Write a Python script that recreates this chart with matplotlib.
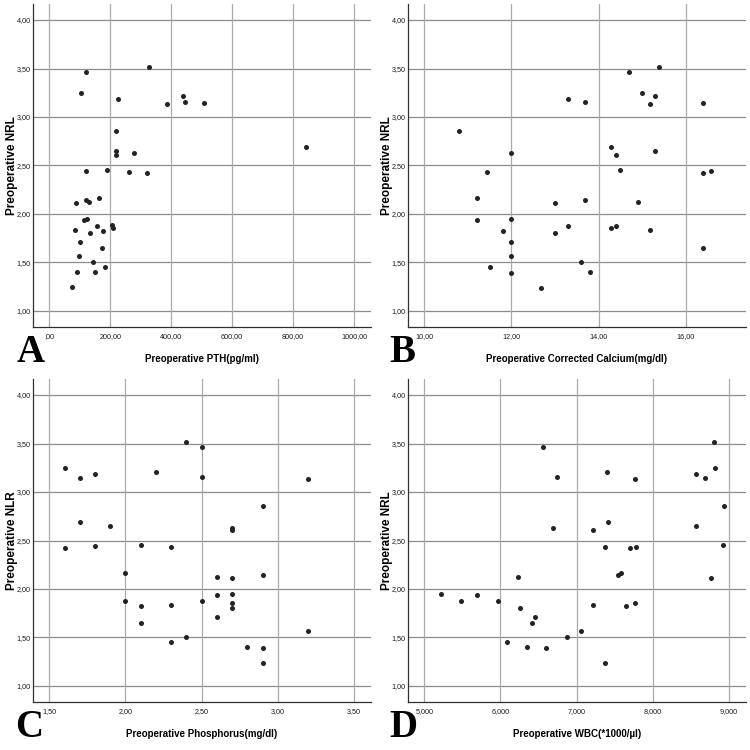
import matplotlib
matplotlib.use("Agg")
import matplotlib.pyplot as plt
from matplotlib import font_manager
from matplotlib.ticker import FixedLocator, FuncFormatter

# ---------------- data ----------------
nlr = [1.25, 1.40, 1.57, 1.71, 1.83, 2.11, 3.25, 3.46, 2.44, 1.94, 1.95, 2.14, 2.12,
       1.80, 1.50, 1.40, 1.88, 2.16, 1.65, 1.82, 1.45, 2.45, 1.89, 1.86, 2.86, 2.65,
       2.61, 3.19, 2.43, 2.63, 2.42, 3.52, 3.13, 3.22, 3.15, 3.14, 2.69]
pth = [74, 92, 96, 102, 83, 89, 103, 119, 120, 115, 125, 121, 129,
       134, 144, 149, 157, 164, 173, 177, 182, 189, 206, 209, 218, 218,
       220, 227, 263, 279, 322, 326, 387, 438, 446, 507, 843]

ca_x = [10.80, 11.20, 11.20, 11.44, 11.50, 11.80, 12.00, 12.00, 12.00, 12.00, 12.00,
        12.69, 13.00, 13.00, 13.30, 13.30, 13.60, 13.70, 13.70, 13.80, 14.29, 14.39,
        14.29, 14.39, 14.49, 14.70, 14.90, 14.99, 15.19, 15.19, 15.29, 15.29, 15.39,
        16.39, 16.39, 16.39, 16.59]
ca_y = [2.86, 2.16, 1.94, 2.43, 1.45, 1.82, 2.63, 1.95, 1.71, 1.57, 1.39,
        1.24, 2.11, 1.80, 3.19, 1.88, 1.50, 3.15, 2.14, 1.40, 2.69, 2.61,
        1.86, 1.88, 2.45, 3.46, 2.12, 3.25, 3.13, 1.83, 3.22, 2.65, 3.52,
        3.14, 2.42, 1.65, 2.44]

p_x = [1.60, 1.60, 1.70, 1.70, 1.80, 1.80, 1.90, 2.00, 2.00, 2.10, 2.10, 2.10, 2.20,
       2.30, 2.30, 2.30, 2.40, 2.40, 2.50, 2.50, 2.50, 2.60, 2.60, 2.60, 2.70, 2.70,
       2.70, 2.70, 2.70, 2.70, 2.80, 2.90, 2.90, 2.90, 2.90, 3.20, 3.20]
p_y = [3.25, 2.42, 3.14, 2.69, 3.19, 2.44, 2.65, 2.16, 1.88, 2.45, 1.82, 1.65, 3.21,
       2.43, 1.83, 1.45, 3.52, 1.50, 3.46, 3.15, 1.88, 2.12, 1.94, 1.71, 2.63, 2.61,
       2.11, 1.95, 1.86, 1.80, 1.40, 2.86, 2.14, 1.39, 1.24, 3.13, 1.57]

wbc_x = [5.214, 5.481, 5.687, 5.967, 6.081, 6.234, 6.260, 6.348, 6.418, 6.457, 6.558,
         6.602, 6.694, 6.737, 6.869, 7.053, 7.219, 7.219, 7.368, 7.376, 7.403, 7.407,
         7.547, 7.586, 7.652, 7.696, 7.761, 7.770, 7.783, 8.562, 8.562, 8.680, 8.759,
         8.807, 8.821, 8.917, 8.934]
wbc_y = [1.95, 1.88, 1.94, 1.88, 1.45, 2.12, 1.80, 1.40, 1.65, 1.71, 3.46,
         1.39, 2.63, 3.15, 1.50, 1.57, 2.61, 1.83, 1.24, 2.43, 3.21, 2.69,
         2.14, 2.16, 1.82, 2.42, 3.13, 1.86, 2.43, 3.19, 2.65, 3.14, 2.11,
         3.52, 3.25, 2.45, 2.86]

y_ticks = [1.0, 1.5, 2.0, 2.5, 3.0, 3.5, 4.0]
a_ticks = [0, 200, 400, 600, 800, 1000]
b_ticks = [10, 12, 14, 16]
c_ticks = [1.5, 2.0, 2.5, 3.0, 3.5]
d_ticks = [5, 6, 7, 8, 9]

panels = [
    dict(x=pth, y=nlr, xt=a_ticks, xlim=(-54.5, 1054.8), dec=2, letter="A",
         xlabel="Preoperative PTH(pg/ml)", ylabel="Preoperative NRL", ox=0, oy=0, lx=17),
    dict(x=ca_x, y=ca_y, xt=b_ticks, xlim=(9.617, 17.38), dec=2, letter="B",
         xlabel="Preoperative Corrected Calcium(mg/dl)", ylabel="Preoperative NRL", ox=375, oy=0, lx=14),
    dict(x=p_x, y=p_y, xt=c_ticks, xlim=(1.391, 3.610), dec=2, letter="C",
         xlabel="Preoperative Phosphorus(mg/dl)", ylabel="Preoperative NLR", ox=0, oy=375, lx=15),
    dict(x=wbc_x, y=wbc_y, xt=d_ticks, xlim=(4.782, 9.219), dec=3, letter="D",
         xlabel="Preoperative WBC(*1000/\u00b5l)", ylabel="Preoperative NRL", ox=375, oy=375, lx=14),
]

names = {f.name for f in font_manager.fontManager.ttflist}
narrow = "Liberation Sans Narrow" if "Liberation Sans Narrow" in names else "Liberation Sans"


def fmt_factory(dec):
    def f(v, pos):
        s = f"{v:.{dec}f}".replace(".", ",")
        if s.startswith("0,") and abs(v) < 1e-9:
            s = s[1:]
        return s
    return f


W = H = 750
fig = plt.figure(figsize=(7.5, 7.5), dpi=100)
fig.patch.set_facecolor("white")

ax_l, ax_r, ax_t, ax_b = 32.7, 370.7, 4.0, 327.0

for p in panels:
    left = (p["ox"] + ax_l) / W
    bottom = 1 - (p["oy"] + ax_b) / H
    width = (ax_r - ax_l) / W
    height = (ax_b - ax_t) / H
    ax = fig.add_axes([left, bottom, width, height])
    ax.set_xlim(*p["xlim"])
    ax.set_ylim(0.835, 4.165)
    ax.xaxis.set_major_locator(FixedLocator(p["xt"]))
    ax.yaxis.set_major_locator(FixedLocator(y_ticks))
    ax.xaxis.set_major_formatter(FuncFormatter(fmt_factory(p["dec"])))
    ax.yaxis.set_major_formatter(FuncFormatter(fmt_factory(2)))
    ax.tick_params(axis="both", length=0, labelsize=5.2, labelcolor="#1a1a1a")
    ax.tick_params(axis="x", pad=4.5)
    ax.tick_params(axis="y", pad=1.5)
    for lab in ax.get_xticklabels() + ax.get_yticklabels():
        lab.set_fontfamily(narrow)
    for s in ("top", "right"):
        ax.spines[s].set_visible(False)
    for s in ("left", "bottom"):
        ax.spines[s].set_color("#303030")
        ax.spines[s].set_linewidth(0.9)
    for t in y_ticks:
        ax.axhline(t, color="#8c8c8c", lw=0.9, zorder=1)
    for t in p["xt"]:
        ax.axvline(t, color="#ababab", lw=0.9, zorder=1)
    ax.plot(p["x"], p["y"], linestyle="none", marker="o", markersize=3.6,
            color="#222222", markeredgewidth=0, zorder=3)
    ax.set_xlabel(p["xlabel"], fontfamily=narrow, fontweight="bold", fontsize=7.0)
    ax.xaxis.set_label_coords(0.5, -(359 - ax_b) / (ax_b - ax_t))
    ax.xaxis.label.set_va("center")
    ax.set_ylabel(p["ylabel"], fontfamily="Liberation Sans", fontweight="bold", fontsize=8.5)
    ax.yaxis.set_label_coords(-(ax_l - 11.7) / (ax_r - ax_l), 0.5)
    ax.yaxis.label.set_va("center")
    fig.text((p["ox"] + p["lx"]) / W, 1 - (p["oy"] + 362) / H, p["letter"],
             fontfamily="Liberation Serif", fontweight="bold", fontsize=28,
             ha="left", va="baseline", color="black")

fig.savefig("out.png", dpi=100, facecolor="white")
